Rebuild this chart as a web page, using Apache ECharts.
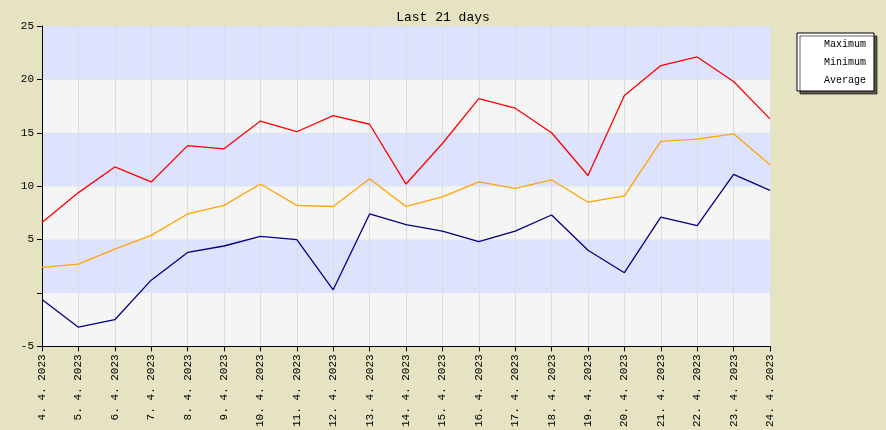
<!DOCTYPE html>
<html>
<head>
<meta charset="utf-8">
<script src="https://cdn.jsdelivr.net/npm/echarts@6/dist/echarts.min.js"></script>
<style>
  html, body { margin: 0; padding: 0; background: #e6e3c3; }
  #chart { width: 886px; height: 430px; }
</style>
</head>
<body>
<div id="chart"></div>
<script>
// 日期
const days = ['4. 4. 2023', '5. 4. 2023', '6. 4. 2023', '7. 4. 2023', '8. 4. 2023', '9. 4. 2023', '10. 4. 2023',
  '11. 4. 2023', '12. 4. 2023', '13. 4. 2023', '14. 4. 2023', '15. 4. 2023', '16. 4. 2023', '17. 4. 2023',
  '18. 4. 2023', '19. 4. 2023', '20. 4. 2023', '21. 4. 2023', '22. 4. 2023', '23. 4. 2023', '24. 4. 2023']
const maximum = [6.6, 9.4, 11.8, 10.4, 13.8, 13.5, 16.1, 15.1, 16.6, 15.8, 10.2, 14.0, 18.2, 17.3, 15.0, 11.0, 18.5, 21.3, 22.1, 19.8, 16.3]
const minimum = [-0.6, -3.2, -2.5, 1.2, 3.8, 4.4, 5.3, 5.0, 0.3, 7.4, 6.4, 5.8, 4.8, 5.8, 7.3, 4.0, 1.9, 7.1, 6.3, 11.1, 9.6]
const average = [2.4, 2.7, 4.1, 5.4, 7.4, 8.2, 10.2, 8.2, 8.1, 10.7, 8.1, 9.0, 10.4, 9.8, 10.6, 8.5, 9.1, 14.2, 14.4, 14.9, 12.0]

const mono = 'Liberation Mono, DejaVu Sans Mono, monospace'

function makeSeries(name, data, color) {
  return {
    name: name,
    type: 'line',
    data: data,
    symbol: 'circle',
    symbolSize: 1,
    lineStyle: { color: color, width: 1.3 },
    itemStyle: { color: color, opacity: 0 },
    labelLayout: { hideOverlap: false },
    label: {
      show: true,
      position: 'top',
      distance: 3,
      color: color,
      fontFamily: mono,
      fontWeight: 'bold',
      fontSize: 12,
      formatter: p => p.value.toFixed(1)
    }
  }
}

const myChart = echarts.init(document.querySelector('#chart'))
const option = {
  backgroundColor: '#e6e3c3',
  animation: false,
  title: {
    text: 'Last 21 days',
    left: 'center',
    top: 6,
    textStyle: { fontFamily: mono, fontSize: 13, fontWeight: 'normal', color: '#000' }
  },
  legend: {
    orient: 'vertical',
    left: 797,
    top: 33,
    itemWidth: 18,
    itemHeight: 2,
    itemGap: 8,
    padding: [6, 8, 6, 4],
    backgroundColor: '#fff',
    borderColor: '#000',
    borderWidth: 1,
    shadowColor: 'rgba(0,0,0,0.6)',
    shadowOffsetX: 3,
    shadowOffsetY: 3,
    textStyle: { fontFamily: mono, fontSize: 10, color: '#000' },
    icon: 'rect'
  },
  grid: { left: 42, right: 116, top: 26, bottom: 80 },
  xAxis: {
    type: 'category',
    data: days,
    boundaryGap: false,
    axisLine: { onZero: false, lineStyle: { color: '#000' } },
    axisTick: { show: true, lineStyle: { color: '#000' } },
    axisLabel: { rotate: 90, interval: 0, fontFamily: mono, fontSize: 11, color: '#000' },
    splitLine: { show: true, lineStyle: { color: '#ddd' } }
  },
  yAxis: {
    type: 'value',
    min: -5,
    max: 25,
    interval: 5,
    axisLine: { show: true, lineStyle: { color: '#000' } },
    axisTick: { show: true, lineStyle: { color: '#000' } },
    axisLabel: { fontFamily: mono, fontSize: 11, color: '#000', formatter: v => v === 0 ? '' : v },
    splitLine: { show: false },
    splitArea: { show: true, areaStyle: { color: ['#f5f5f5', '#dde3fd'] } }
  },
  series: [
    makeSeries('Maximum', maximum, '#ff0000'),
    makeSeries('Minimum', minimum, '#000080'),
    makeSeries('Average', average, '#ffa500')
  ]
}
myChart.setOption(option)
</script>
</body>
</html>
